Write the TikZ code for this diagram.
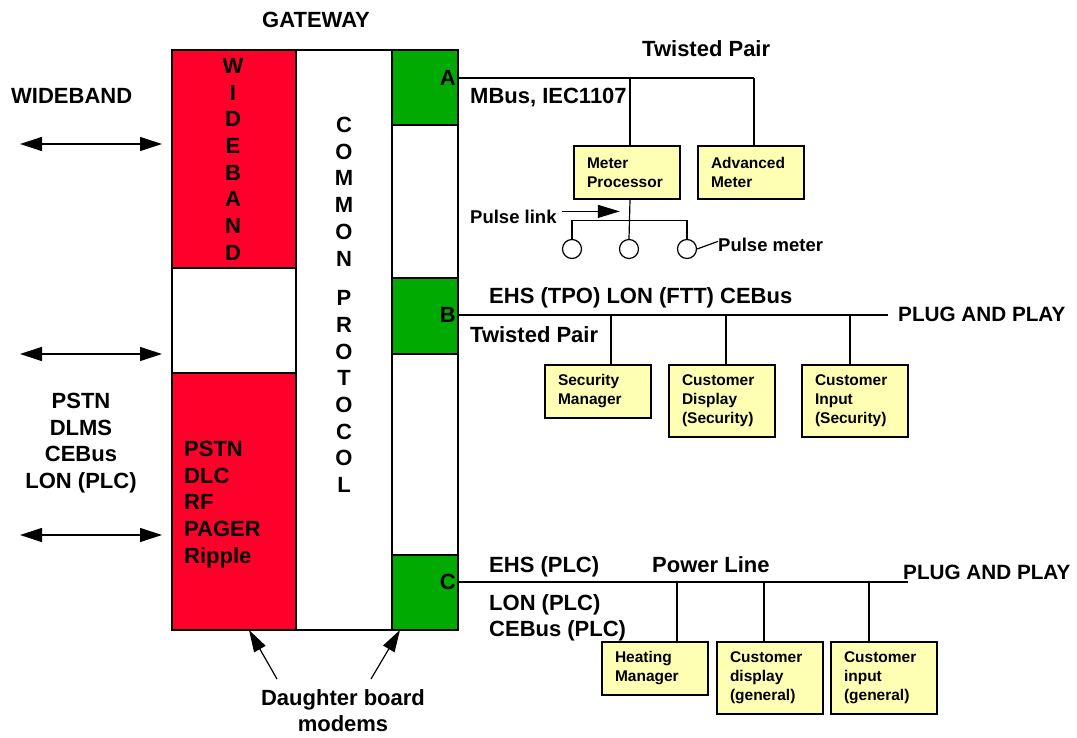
\documentclass[tikz,border=0pt]{standalone}
\usepackage{fontspec}
\setmainfont{Liberation Sans}
\usetikzlibrary{arrows.meta,positioning}
\definecolor{modemred}{RGB}{255,0,42}
\definecolor{modemgreen}{RGB}{0,170,0}
\definecolor{devfill}{RGB}{255,255,179}

\begin{document}
\begin{tikzpicture}[x=1pt, y=-1pt,
  lbl/.style={font=\fontsize{22}{26.7}\selectfont\bfseries, inner sep=0pt},
  sml/.style={font=\fontsize{18.5}{22}\selectfont\bfseries, inner sep=0pt},
  plug/.style={font=\fontsize{20.7}{25}\selectfont\bfseries, inner sep=0pt, anchor=base west},
  part/.style={draw, line width=2pt, inner sep=0pt, outer sep=0pt},
  device/.style={draw, line width=2pt, fill=devfill, anchor=north west, align=left, text width=80pt, inner xsep=13pt, inner ysep=0pt, minimum height=53pt, font=\fontsize{15.5}{19}\selectfont\bfseries},
  tall/.style={minimum height=72pt},
  meter/.style={circle, draw, line width=1.2pt, minimum size=19pt, inner sep=0pt},
  bus/.style={line width=1.2pt},
  arrow/.style={-{Triangle[length=22pt,width=13pt]}, line width=1.2pt},
  twoway/.style={{Triangle[length=22pt,width=14pt]}-{Triangle[length=22pt,width=14pt]}, line width=1.2pt},
]
  \useasboundingbox (0,0) rectangle (1077,738);

  \node[lbl, anchor=north] (gw) at (316,12) {GATEWAY};

  \node[part, fill=modemred, minimum width=124pt, minimum height=218pt, anchor=north west] (wideTop) at (172,50) {};
  \node[part, fill=white, minimum width=124pt, minimum height=105pt, below=0pt of wideTop] (wideMid) {};
  \node[part, fill=modemred, minimum width=124pt, minimum height=257pt, below=0pt of wideMid] (wideBot) {};
  \node[part, fill=white, minimum width=96pt, minimum height=580pt, anchor=north west] (common) at (wideTop.north east) {};
  \node[part, fill=modemgreen, minimum width=66pt, minimum height=75pt, anchor=north west] (slotA) at (common.north east) {};
  \node[part, fill=white, minimum width=66pt, minimum height=153pt, below=0pt of slotA] (gapAB) {};
  \node[part, fill=modemgreen, minimum width=66pt, minimum height=76pt, below=0pt of gapAB] (slotB) {};
  \node[part, fill=white, minimum width=66pt, minimum height=201pt, below=0pt of slotB] (gapBC) {};
  \node[part, fill=modemgreen, minimum width=66pt, minimum height=75pt, below=0pt of gapBC] (slotC) {};

  \node[lbl, align=center, anchor=north] (wideTxt) at (233,58) {W\\I\\D\\E\\B\\A\\N\\D};
  \node[lbl, align=center, anchor=north] (protoTxt) at (344,117) {C\\O\\M\\M\\O\\N\\[13pt]P\\R\\O\\T\\O\\C\\O\\L};
  \node[lbl, align=left, anchor=north west] (wideList) at (184,441) {PSTN\\DLC\\RF\\PAGER\\Ripple};
  \node[lbl, anchor=east] (modA) at (456,78) {A};
  \node[lbl, anchor=east] (modB) at (456,315) {B};
  \node[lbl, anchor=east] (modC) at (456,582) {C};

  \node[lbl, anchor=north west] (wbLbl) at (11,88) {WIDEBAND};
  \node[lbl, align=center, anchor=north] (nbLbl) at (81,393) {PSTN\\DLMS\\CEBus\\LON (PLC)};
  \coordinate (wbEnd) at (20,144);
  \coordinate (midEnd) at (20,354);
  \coordinate (nbEnd) at (20,535);
  \draw[twoway, shorten >=10pt] (wbEnd) -- (wbEnd -| wideTop.west);
  \draw[twoway, shorten >=10pt] (midEnd) -- (midEnd -| wideMid.west);
  \draw[twoway, shorten >=10pt] (nbEnd) -- (nbEnd -| wideBot.west);

  \node[lbl, align=center, anchor=north] (dbm) at (343,689) {Daughter board\\modems};
  \draw[arrow] ([shift={(-66,-10)}]dbm.north) -- ([xshift=15pt]wideBot.south);
  \draw[arrow] ([shift={(28,-10)}]dbm.north) -- ([xshift=8pt]slotC.south west);

  \node[lbl, anchor=base west] (tpA) at (642,57) {Twisted Pair};
  \node[lbl, anchor=base west] (mbus) at (470,104) {MBus, IEC1107};
  \node[device] (mproc) at (573,145) {Meter\\Processor};
  \node[device] (advm) at (697,145) {Advanced\\Meter};

  \node[lbl, anchor=base west] (ehsB) at (489,304) {EHS (TPO) LON (FTT) CEBus};
  \node[lbl, anchor=base west] (tpB) at (470,342) {Twisted Pair};
  \node[plug] (plugB) at (898,322) {PLUG AND PLAY};
  \node[device] (secm) at (544,364) {Security\\Manager};
  \node[device, tall] (cdisp) at (668,364) {Customer\\Display\\(Security)};
  \node[device, tall] (cinp) at (801,364) {Customer\\Input\\(Security)};

  \node[lbl, anchor=base west] (ehsC) at (489,572) {EHS (PLC)};
  \node[lbl, anchor=base west] (plc) at (652,572) {Power Line};
  \node[lbl, align=left, anchor=north west] (lonC) at (489,594) {LON (PLC)\\CEBus (PLC)};
  \node[plug] (plugC) at (903,579) {PLUG AND PLAY};
  \node[device] (heat) at (601,641) {Heating\\Manager};
  \node[device, tall] (gdisp) at (716,641) {Customer\\display\\(general)};
  \node[device, tall] (ginp) at (830,641) {Customer\\input\\(general)};

  \foreach \dev/\dx/\busy in {mproc/3/modA, advm/3/modA, secm/13/modB, cdisp/4/modB, cinp/-5/modB, heat/22/modC, gdisp/-6/modC, ginp/-15/modC}{
    \coordinate (tap-\dev) at ([xshift=\dx pt]\dev.north);
    \draw[bus] (tap-\dev) -- (tap-\dev |- \busy);
  }
  \draw[bus] (slotA.east |- modA) -- (tap-advm |- modA);
  \draw[bus, shorten >=10pt] (slotB.east |- modB) -- (plugB.west |- modB);
  \coordinate (busCend) at (plugC.west |- modC);
  \draw[bus] (slotC.east |- modC) -- ([xshift=5pt]busCend);

  \node[meter] (pm1) at (572,249) {};
  \node[meter] (pm2) at (629,249) {};
  \node[meter] (pm3) at (687,249) {};
  \draw[bus] ([xshift=3pt]mproc.south) -- (pm2.north);
  \draw[bus] (pm1.north) -- ++(0,-18.5) -| (pm3.north);
  \node[sml, anchor=base west] (plink) at (470,224) {Pulse link};
  \coordinate (plinkTip) at ([shift={(63,-6)}]plink.east);
  \draw[arrow] ([shift={(5,-6)}]plink.east) -- (plinkTip);
  \node[sml, anchor=base west] (pmeter) at (718,252) {Pulse meter};
  \draw[bus] (pm3.east) -- ([yshift=4pt]pmeter.west);
\end{tikzpicture}
\end{document}
